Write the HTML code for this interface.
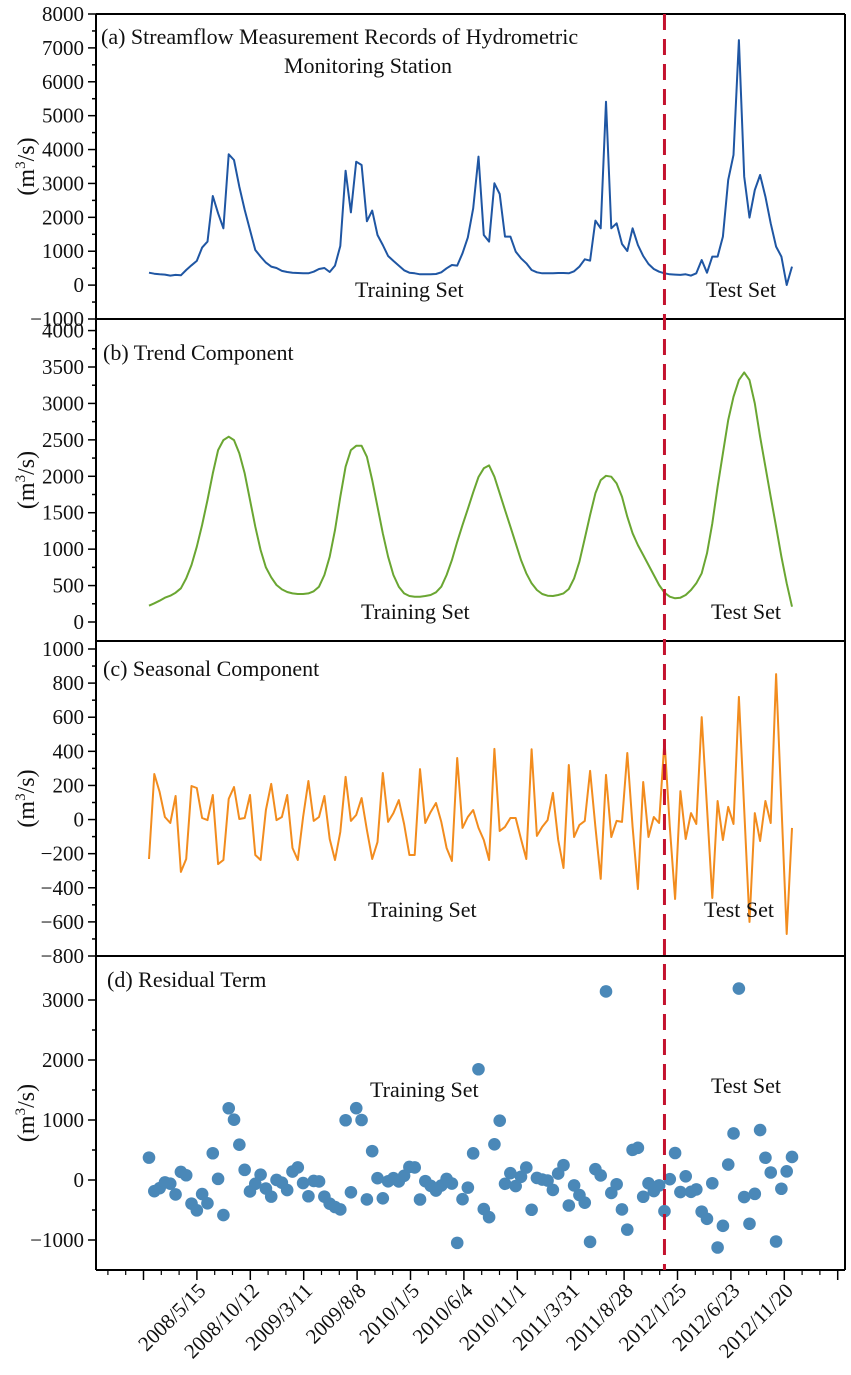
<!DOCTYPE html>
<html><head><meta charset="utf-8"><style>
body{margin:0;background:#fff}
svg{display:block;font-family:"Liberation Serif",serif}
</style></head><body>
<svg id="chart" width="851" height="1375" viewBox="0 0 851 1375" xmlns="http://www.w3.org/2000/svg"></svg>
<script>
const dates = ["2008/5/15","2008/10/12","2009/3/11","2009/8/8","2010/1/5","2010/6/4","2010/11/1","2011/3/31","2011/8/28","2012/1/25","2012/6/23","2012/11/20"];
const streamflow = [366,337,318,309,280,300,290,447,585,713,1106,1283,2630,2118,1676,3860,3693,2906,2218,1627,1037,840,663,545,506,418,388,366,357,348,348,397,476,506,388,575,1155,3377,2147,3643,3545,1883,2198,1480,1185,860,713,575,437,366,348,318,318,318,328,378,496,594,575,939,1401,2266,3791,1480,1283,3003,2688,1431,1431,988,791,644,447,378,348,348,348,357,357,348,407,545,762,722,1903,1676,5411,1676,1824,1214,1008,1676,1185,860,624,476,397,348,318,309,300,318,280,348,742,366,840,840,1431,3103,3841,7230,3201,1991,2807,3250,2611,1824,1136,840,4,545];
const trend = [224,256,292,334,361,402,462,599,782,1034,1331,1674,2040,2360,2497,2543,2497,2315,2040,1674,1308,988,750,613,508,448,412,393,384,384,393,421,485,645,896,1262,1719,2131,2360,2419,2419,2268,1948,1582,1217,896,645,485,393,357,347,347,357,370,407,485,645,850,1100,1330,1550,1780,1990,2110,2150,1994,1766,1537,1308,1080,851,668,531,439,384,361,357,370,393,453,599,828,1148,1468,1766,1948,2007,1994,1903,1719,1445,1217,1056,919,782,645,508,402,347,325,334,370,439,531,668,943,1354,1856,2315,2771,3091,3320,3426,3320,3000,2543,2131,1719,1308,896,531,210];
const seasonal = [-231,267,162,15,-20,138,-307,-231,197,185,9,-3,144,-261,-237,121,191,3,9,144,-208,-237,56,209,-3,15,144,-167,-237,15,226,-8,15,138,-114,-237,-73,250,-8,27,126,-61,-231,-132,273,-14,38,114,-26,-208,-208,296,-20,44,97,-14,-167,-243,361,-49,15,56,-49,-120,-237,414,-67,-43,9,9,-114,-231,412,-96,-43,-3,156,-120,-284,320,-102,-32,-8,285,-43,-348,262,-102,-8,-14,390,-43,-407,220,-102,15,-20,466,-43,-466,167,-114,38,-26,601,70,-460,109,-120,74,-26,719,60,-600,38,-126,109,-20,853,90,-671,-49];
const residual = [373,-186,-136,-40,-61,-240,135,79,-394,-506,-234,-388,446,19,-584,1196,1005,588,169,-191,-63,89,-143,-277,1,-45,-168,140,210,-51,-271,-16,-24,-277,-394,-450,-491,996,-205,1197,1000,-324,481,30,-305,-22,30,-24,70,217,209,-325,-19,-96,-176,-93,18,-59,-1048,-320,-127,444,1846,-485,-620,595,989,-63,114,-101,54,207,-496,35,7,-10,-165,107,248,-425,-90,-251,-378,-1031,180,76,3142,-216,-71,-491,-827,502,536,-279,-56,-184,-91,-520,14,450,-201,62,-197,-157,-527,-647,-54,-1125,-764,258,776,3191,-285,-729,-231,833,371,125,-1025,-146,144,384];
const splitIndex = 97;

const NS="http://www.w3.org/2000/svg";
const svg=document.getElementById('chart');
function el(tag,attrs,parent){const e=document.createElementNS(NS,tag);for(const k in attrs)e.setAttribute(k,attrs[k]);(parent||svg).appendChild(e);return e;}
const X0=96,X1=845,XF=149,XL=792;
function xIdx(i,n){return XF+(XL-XF)*i/(n-1);}
const panels=[
 {key:'a',top:14,bottom:319,vTop:8000,yTop:14,vBot:-1000,yBot:319,major:1000,minor:500,tmin:-1000,tmax:8000},
 {key:'b',top:319,bottom:641,vTop:3500,yTop:367,vBot:0,yBot:622,major:500,minor:250,tmin:0,tmax:4000},
 {key:'c',top:641,bottom:956,vTop:1000,yTop:649,vBot:-800,yBot:956,major:200,minor:100,tmin:-800,tmax:1000},
 {key:'d',top:956,bottom:1270,vTop:0,yTop:1180,vBot:-1000,yBot:1240,major:1000,minor:500,tmin:-1000,tmax:3000}
];
panels.forEach(p=>{p.y=v=>p.yTop+(v-p.vTop)*(p.yBot-p.yTop)/(p.vBot-p.vTop);});

panels.forEach(p=>{
  const g=el('g',{});
  
  
  el('line',{x1:X0,y1:p.top,x2:X0,y2:p.bottom,stroke:'#000','stroke-width':2},g);
  el('line',{x1:X1,y1:p.top,x2:X1,y2:p.bottom,stroke:'#000','stroke-width':2},g);
  el('line',{x1:X0,y1:p.top,x2:X1,y2:p.top,stroke:'#000','stroke-width':2},g);
  for(let v=p.tmin;v<=p.tmax+0.1;v+=p.minor){
    const y=p.y(v);const isMaj=Math.abs(v/p.major-Math.round(v/p.major))<1e-6;
    if(y<p.top-1||y>p.bottom+1)continue;
    el('line',{x1:X0-(isMaj?8:4),y1:y,x2:X0,y2:y,stroke:'#000','stroke-width':1.5},g);
    if(isMaj){
      const t=el('text',{x:X0-12,y:y+7,'text-anchor':'end','font-size':21,fill:'#111'},g);
      t.textContent=(v<0?'\u2212':'')+Math.abs(v);
      
      
    }
  }
  const cy=(p.top+p.bottom)/2;
  const yt=el('text',{x:0,y:0,transform:`translate(34,${cy}) rotate(-90)`,'text-anchor':'middle','font-size':24,fill:'#111'},g);
  yt.innerHTML='(m<tspan dy="-9" font-size="15">3</tspan><tspan dy="9">/s)</tspan>';
  
  
});
const bx=el('g',{});


el('line',{x1:X0,y1:1270,x2:X1,y2:1270,stroke:'#000','stroke-width':2},bx);
const tick0=143.5,tstep=53.4;
for(let k=0;k<14;k++){
  const x=tick0+k*tstep;
  el('line',{x1:x,y1:1270,x2:x,y2:1280,stroke:'#000','stroke-width':1.5},bx);
  for(let m=1;m<3;m++){const xm=x-m*tstep/3; if(xm>X0)el('line',{x1:xm,y1:1270,x2:xm,y2:1275,stroke:'#000','stroke-width':1.2},bx);}
}
dates.forEach((d,k)=>{
  const x=tick0+(k+1)*tstep;
  const t=el('text',{x:0,y:0,transform:`translate(${x+10},${1292}) rotate(-45)`,'text-anchor':'end','font-size':21,fill:'#111'},bx);
  t.textContent=d;
  
  
});

function linePath(arr,p){return arr.map((v,i)=>(i?'L':'M')+xIdx(i,arr.length).toFixed(1)+','+p.y(v).toFixed(1)).join('');}
const la=el('path',{d:linePath(streamflow,panels[0]),fill:'none',stroke:'#1f56a3','stroke-width':2,'stroke-linejoin':'round'});


const lb=el('path',{d:linePath(trend,panels[1]),fill:'none',stroke:'#6aa632','stroke-width':2,'stroke-linejoin':'round'});


const lc=el('path',{d:linePath(seasonal,panels[2]),fill:'none',stroke:'#f28c1e','stroke-width':2,'stroke-linejoin':'round'});


residual.forEach((v,i)=>{
  const c=el('circle',{cx:xIdx(i,residual.length),cy:panels[3].y(v),r:6.3,fill:'#4a88b8'});
  
  
});
const sx=xIdx(splitIndex,streamflow.length);
const sl=el('line',{x1:sx,y1:14,x2:sx,y2:1270,stroke:'#c4122e','stroke-width':3,'stroke-dasharray':'16 9'});



function txt(s,x,y,name,anchor){const t=el('text',{x:x,y:y,'font-size':22,fill:'#111','text-anchor':anchor||'start'});t.textContent=s;return t;}
txt('(a) Streamflow Measurement Records of Hydrometric',101,44,'panel-a-title');
txt('Monitoring Station',368,73,'panel-a-title-line2','middle');
txt('Training Set',355,297,'panel-a-training-label');
txt('Test Set',706,297,'panel-a-test-label');
txt('(b) Trend Component',103,360,'panel-b-title');
txt('Training Set',361,619,'panel-b-training-label');
txt('Test Set',711,619,'panel-b-test-label');
txt('(c) Seasonal Component',103,676,'panel-c-title');
txt('Training Set',368,917,'panel-c-training-label');
txt('Test Set',704,917,'panel-c-test-label');
txt('(d) Residual Term',107,987,'panel-d-title');
txt('Training Set',370,1097,'panel-d-training-label');
txt('Test Set',711,1093,'panel-d-test-label');
</script>
</body></html>
